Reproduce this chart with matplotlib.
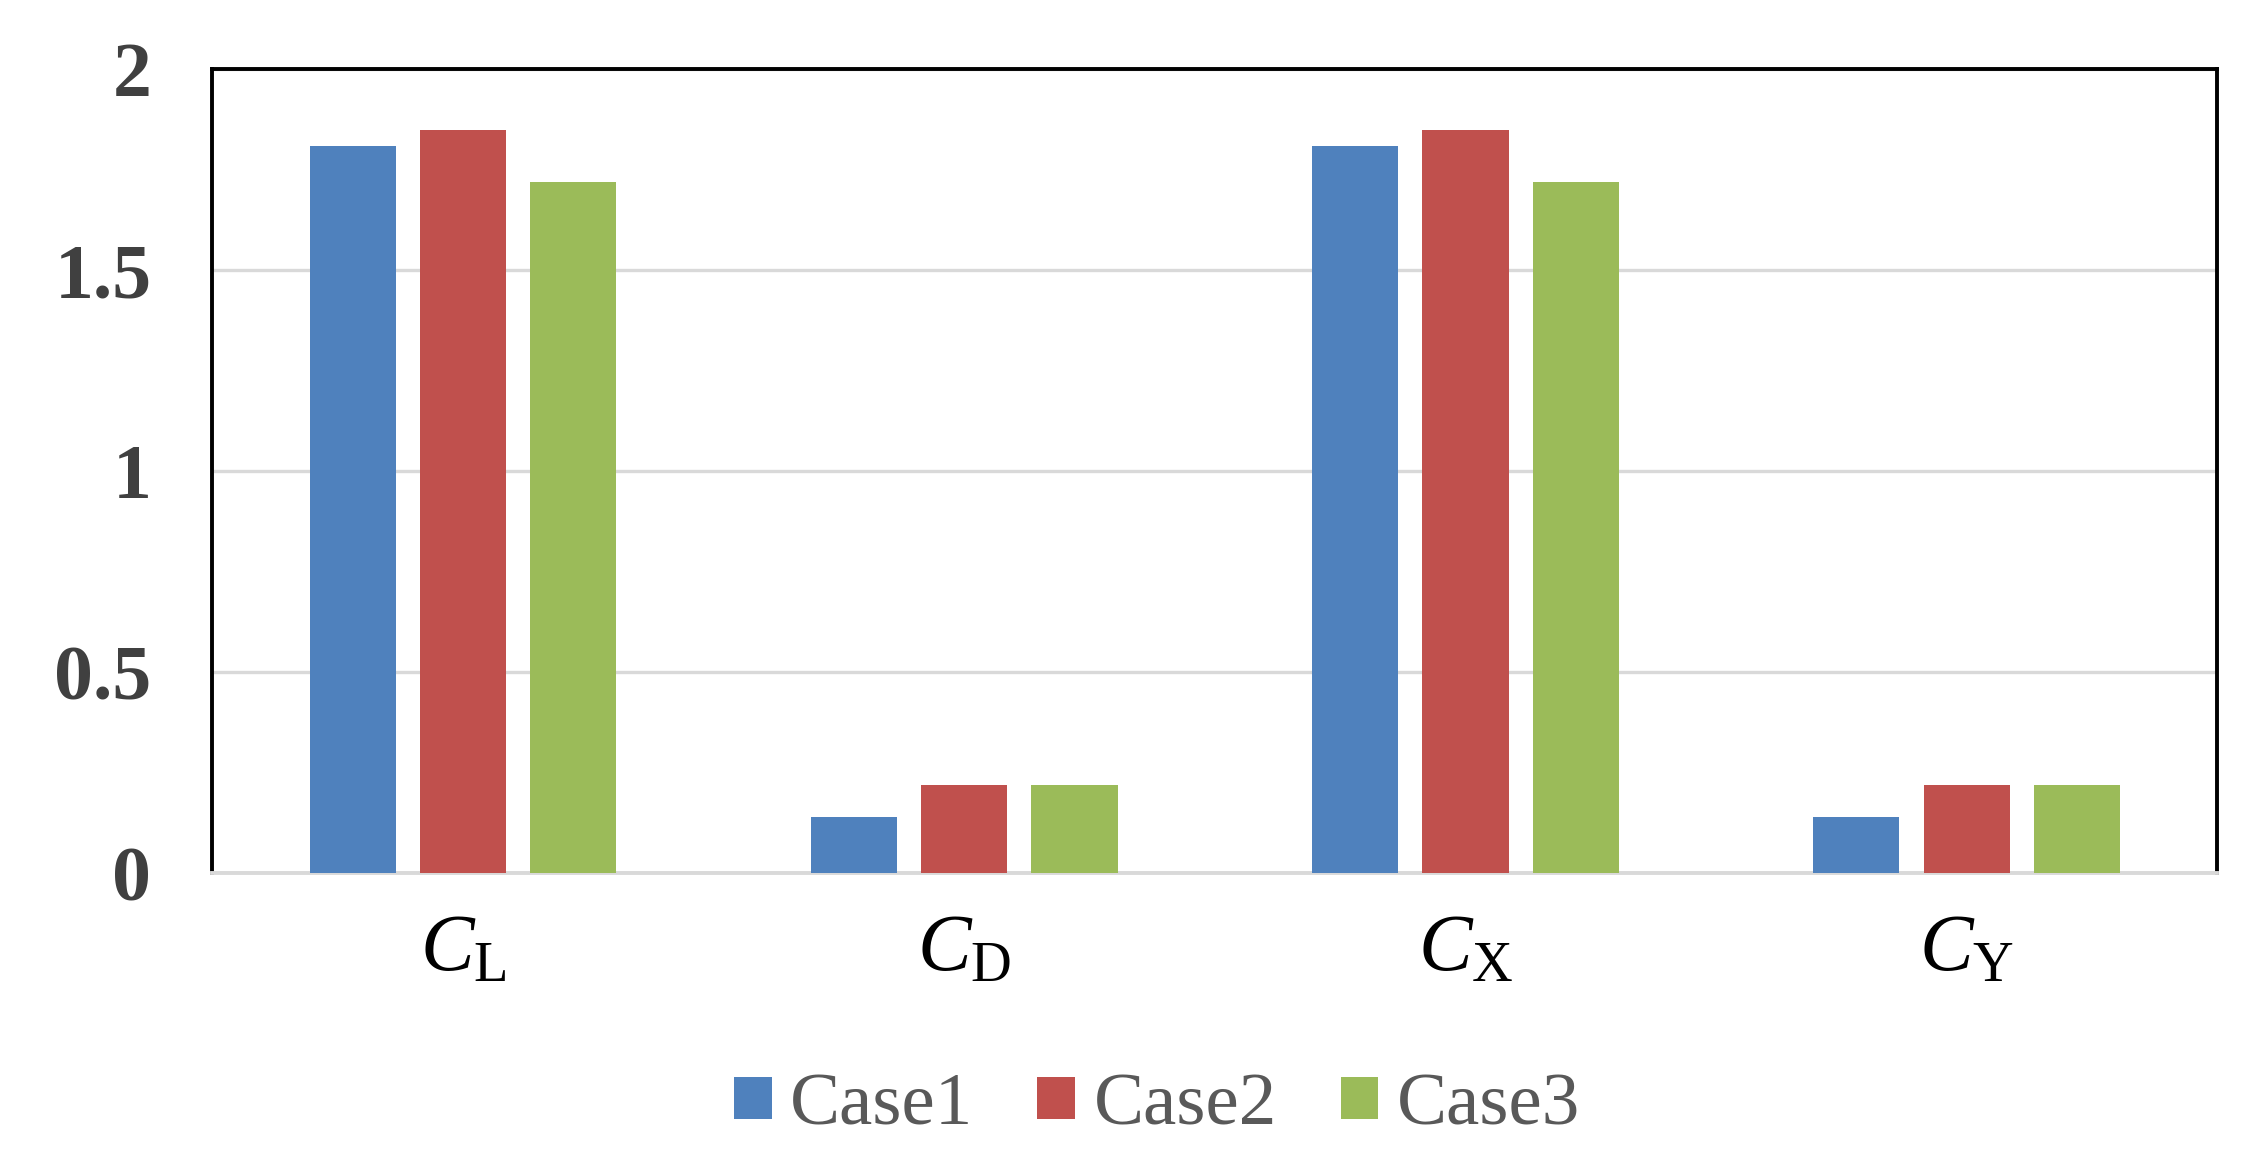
import matplotlib
matplotlib.use('Agg')
import matplotlib.pyplot as plt
import numpy as np

# force coefficients per case
categories = ['L', 'D', 'X', 'Y']
case_names = ['Case1', 'Case2', 'Case3']
case1 = [1.81, 0.14, 1.81, 0.14]
case2 = [1.85, 0.22, 1.85, 0.22]
case3 = [1.72, 0.22, 1.72, 0.22]
y_ticks = [0, 0.5, 1, 1.5, 2]
y_tick_labels = ['0', '0.5', '1', '1.5', '2']

colors = ['#4F81BD', '#C0504D', '#9BBB59']

plt.rcParams['font.family'] = 'Liberation Serif'
plt.rcParams['mathtext.fontset'] = 'custom'
plt.rcParams['mathtext.rm'] = 'Liberation Serif'
plt.rcParams['mathtext.it'] = 'Liberation Serif:italic'

fig = plt.figure(figsize=(11.255, 5.875), dpi=200)
ax = fig.add_axes([0.0944, 0.257, 0.8906, 0.684])

x = np.arange(len(categories))
width = 0.172
offset = 0.22
for i, vals in enumerate([case1, case2, case3]):
    ax.bar(x + (i - 1) * offset, vals, width, color=colors[i],
           label=case_names[i], zorder=3)

ax.set_xlim(-0.5, len(categories) - 0.5)
ax.set_ylim(0, 2)
ax.set_yticks(y_ticks)
ax.set_yticklabels(y_tick_labels, fontsize=28, fontweight='bold', color='#404040')
ax.set_xticks(x)
ax.set_xticklabels([r'$\mathit{C}_{\mathrm{%s}}$' % c for c in categories],
                   fontsize=29, color='black')
ax.tick_params(axis='both', length=0)
ax.tick_params(axis='y', pad=22)
ax.tick_params(axis='x', pad=15)

ax.yaxis.grid(True, color='#D9D9D9', linewidth=1.2, zorder=0)
ax.set_axisbelow(True)

for side in ['left', 'top', 'right']:
    ax.spines[side].set_color('black')
    ax.spines[side].set_linewidth(1.4)
ax.spines['bottom'].set_color('#D9D9D9')
ax.spines['bottom'].set_linewidth(1.4)

leg = fig.legend(loc='center', bbox_to_anchor=(0.514, 0.058), ncol=3,
                 frameon=False, fontsize=27, handlelength=0.5,
                 handleheight=0.5, handletextpad=0.25, columnspacing=0.85)
for t in leg.get_texts():
    t.set_color('#595959')

fig.savefig('out.png', dpi=200)
